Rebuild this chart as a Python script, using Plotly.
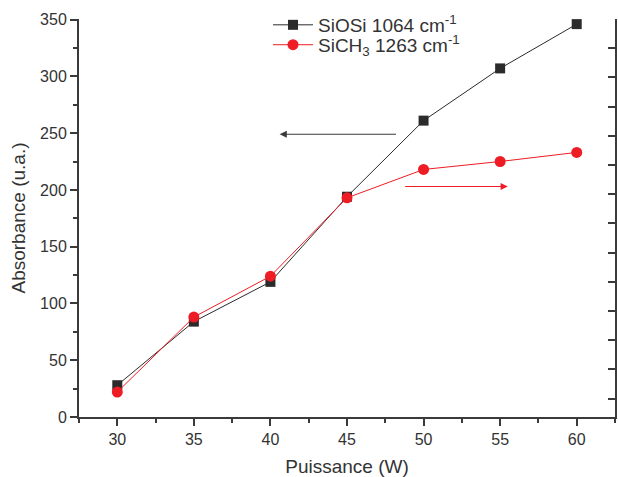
import plotly.graph_objects as go

puissance = [30, 35, 40, 45, 50, 55, 60]
siosi = [28, 84, 119, 194, 261, 307, 346]
sich3 = [22, 88, 124, 193, 218, 225, 233]
x_ticks = [30, 35, 40, 45, 50, 55, 60]
y_ticks = [0, 50, 100, 150, 200, 250, 300, 350]

FONT = "Liberation Sans, Arial, sans-serif"
AX = "#3a3a3a"

fig = go.Figure()
fig.add_trace(go.Scatter(
    x=puissance, y=siosi, mode="lines+markers",
    name="SiOSi 1064 cm<sup>-1</sup>", legend="legend",
    line=dict(color="#2b2b2b", width=1),
    marker=dict(symbol="square", size=10, color="#2b2b2b"),
))
fig.add_trace(go.Scatter(
    x=puissance, y=sich3, mode="lines+markers",
    name="SiCH<sub>3</sub> 1263 cm<sup>-1</sup>", legend="legend2",
    line=dict(color="#ee1c25", width=1),
    marker=dict(symbol="circle", size=11, color="#ee1c25"),
))
fig.add_trace(go.Scatter(x=[None], y=[None], yaxis="y2", showlegend=False))

fig.add_annotation(x=40.6, y=249, ax=48.3, ay=249, xref="x", yref="y", axref="x", ayref="y",
                   showarrow=True, arrowhead=2, arrowsize=1.2, arrowwidth=1.2, arrowcolor="#3a3a3a", text="")
fig.add_annotation(x=55.5, y=203, ax=48.7, ay=203, xref="x", yref="y", axref="x", ayref="y",
                   showarrow=True, arrowhead=2, arrowsize=1.2, arrowwidth=1.2, arrowcolor="#ee1c25", text="")

leg_common = dict(xanchor="left", yanchor="middle", bgcolor="rgba(0,0,0,0)",
                  font=dict(size=19, family=FONT, color="#333"), itemwidth=40)

fig.update_layout(
    width=618, height=477,
    margin=dict(l=79, r=3, t=19, b=60, autoexpand=False),
    paper_bgcolor="white", plot_bgcolor="white",
    font=dict(family=FONT, size=16, color="#333"),
    showlegend=True,
    legend=dict(x=0.3526, y=0.985, **leg_common),
    legend2=dict(x=0.3526, y=0.935, **leg_common),
    xaxis=dict(
        range=[27.5, 62.5], tickvals=x_ticks, ticks="outside", ticklen=7, tickwidth=1.5,
        tickcolor=AX, showline=True, linecolor=AX, linewidth=2, showgrid=False, zeroline=False,
        minor=dict(dtick=2.5, tick0=27.5, ticks="outside", ticklen=4, tickcolor=AX, tickwidth=1.5),
        title=dict(text="Puissance (W)", font=dict(size=19), standoff=12),
        tickfont=dict(size=16), automargin=False,
    ),
    yaxis=dict(
        range=[0, 350.5], tickvals=y_ticks, ticks="outside", ticklen=7, tickwidth=1.5,
        tickcolor=AX, showline=True, linecolor=AX, linewidth=2, showgrid=False, zeroline=False,
        minor=dict(dtick=25, tick0=0, ticks="outside", ticklen=4, tickcolor=AX, tickwidth=1.5),
        title=dict(text="Absorbance (u.a.)", font=dict(size=19), standoff=9),
        tickfont=dict(size=16), automargin=False,
    ),
    yaxis2=dict(
        overlaying="y", side="right", range=[0.37, 14], dtick=1, tick0=0,
        ticks="inside", ticklen=7, tickwidth=1.5, tickcolor=AX, showticklabels=False,
        showline=True, linecolor=AX, linewidth=2, showgrid=False, zeroline=False, automargin=False,
    ),
)

fig.write_html(
    "out.html",
    config={"displayModeBar": False},
    post_script="document.body.style.margin='0';document.body.style.overflow='hidden';",
)
